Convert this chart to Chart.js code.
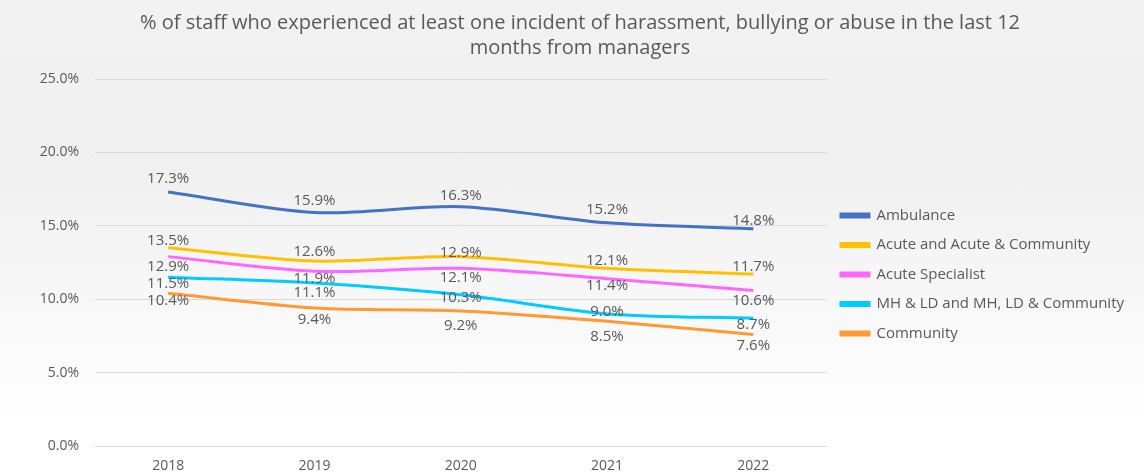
<!DOCTYPE html>
<html>
<head>
<meta charset="utf-8">
<script src="https://cdn.jsdelivr.net/npm/chart.js@4/dist/chart.umd.min.js"></script>
<style>
  html, body { margin: 0; padding: 0; }
  body {
    width: 1144px; height: 473px; overflow: hidden;
    background: linear-gradient(to bottom, #f2f2f2 0%, #f0f0f0 35%, #ffffff 90%, #ffffff 100%);
  }
  canvas { display: block; }
</style>
</head>
<body>
<canvas id="myChart" width="1144" height="473"></canvas>
<script>
// data
var years = ['2018', '2019', '2020', '2021', '2022'];
var ambulance = [17.3, 15.9, 16.3, 15.2, 14.8];
var acute = [13.5, 12.6, 12.9, 12.1, 11.7];
var acuteSpecialist = [12.9, 11.9, 12.1, 11.4, 10.6];
var mhld = [11.5, 11.1, 10.3, 9.0, 8.7];
var community = [10.4, 9.4, 9.2, 8.5, 7.6];
var yTicks = [0, 5, 10, 15, 20, 25];

var titleLines = ['% of staff who experienced at least one incident of harassment, bullying or abuse in the last 12',
                  'months from managers'];

var txtColor = '#595959';
var fontName = "'Open Sans', sans-serif";

// vertical nudges (px) of the value labels, as placed in the original
var labelNudge = [
    [-13, -12, -11, -13, -8],
    [-7, -9, -4, -8, -8],
    [10, 7, 9, 7, 10],
    [7, 10, 3, -2, 6],
    [7, 12, 15, 16, 11]
];

var valueLabels = {
    id: 'valueLabels',
    afterDatasetsDraw: function (chart) {
        var ctx = chart.ctx;
        ctx.save();
        ctx.font = '15px ' + fontName;
        ctx.fillStyle = txtColor;
        ctx.textAlign = 'center';
        ctx.textBaseline = 'middle';
        chart.data.datasets.forEach(function (ds, i) {
            var meta = chart.getDatasetMeta(i);
            meta.data.forEach(function (pt, j) {
                ctx.fillText(ds.data[j].toFixed(1) + '%', pt.x, pt.y + labelNudge[i][j]);
            });
        });
        ctx.restore();
    }
};

function series(label, data, color) {
    return {
        label: label,
        data: data,
        borderColor: color,
        backgroundColor: color,
        borderWidth: 3,
        pointRadius: 0,
        tension: 0.3,
        fill: false
    };
}

var ctx1 = document.getElementById('myChart');
var myChart = new Chart(ctx1, {
    type: 'line',
    data: {
        labels: years,
        datasets: [
            series('Ambulance', ambulance, '#4472c4'),
            series('Acute and Acute & Community', acute, '#ffc000'),
            series('Acute Specialist', acuteSpecialist, '#ff66ff'),
            series('MH & LD and MH, LD & Community', mhld, '#00ccff'),
            series('Community', community, '#ff9933')
        ]
    },
    options: {
        responsive: false,
        animation: false,
        devicePixelRatio: 1,
        layout: { padding: { left: 26, right: 10, top: 0, bottom: 0 } },
        plugins: {
            title: {
                display: true,
                text: titleLines,
                color: txtColor,
                font: { family: fontName, size: 20, weight: 'normal', lineHeight: 1.25 },
                padding: { top: 11, bottom: 18 }
            },
            legend: {
                position: 'right',
                maxWidth: 330,
                // empty title only pushes the items down
                title: {
                    display: true,
                    text: ' ',
                    font: { size: 1, lineHeight: 1 },
                    padding: { top: 75, bottom: 0 }
                },
                labels: {
                    color: txtColor,
                    font: { family: fontName, size: 15 },
                    boxWidth: 28,
                    boxHeight: 3,
                    padding: 14.5
                }
            },
            tooltip: { enabled: false }
        },
        scales: {
            x: {
                offset: true,
                grid: { display: false },
                border: { display: false },
                ticks: { color: txtColor, font: { family: fontName, size: 14 }, padding: 4 },
                afterFit: function (scale) { scale.height = 27; }
            },
            y: {
                min: 0,
                max: 25,
                afterBuildTicks: function (scale) {
                    scale.ticks = yTicks.map(function (v) { return { value: v }; });
                },
                grid: { color: '#d9d9d9', lineWidth: 1, drawTicks: false },
                border: { display: false },
                ticks: {
                    color: txtColor,
                    font: { family: fontName, size: 14 },
                    padding: 16,
                    callback: function (v) { return v.toFixed(1) + '%'; }
                },
                afterFit: function (scale) { scale.width = 69; }
            }
        }
    },
    plugins: [valueLabels]
});
</script>
</body>
</html>
